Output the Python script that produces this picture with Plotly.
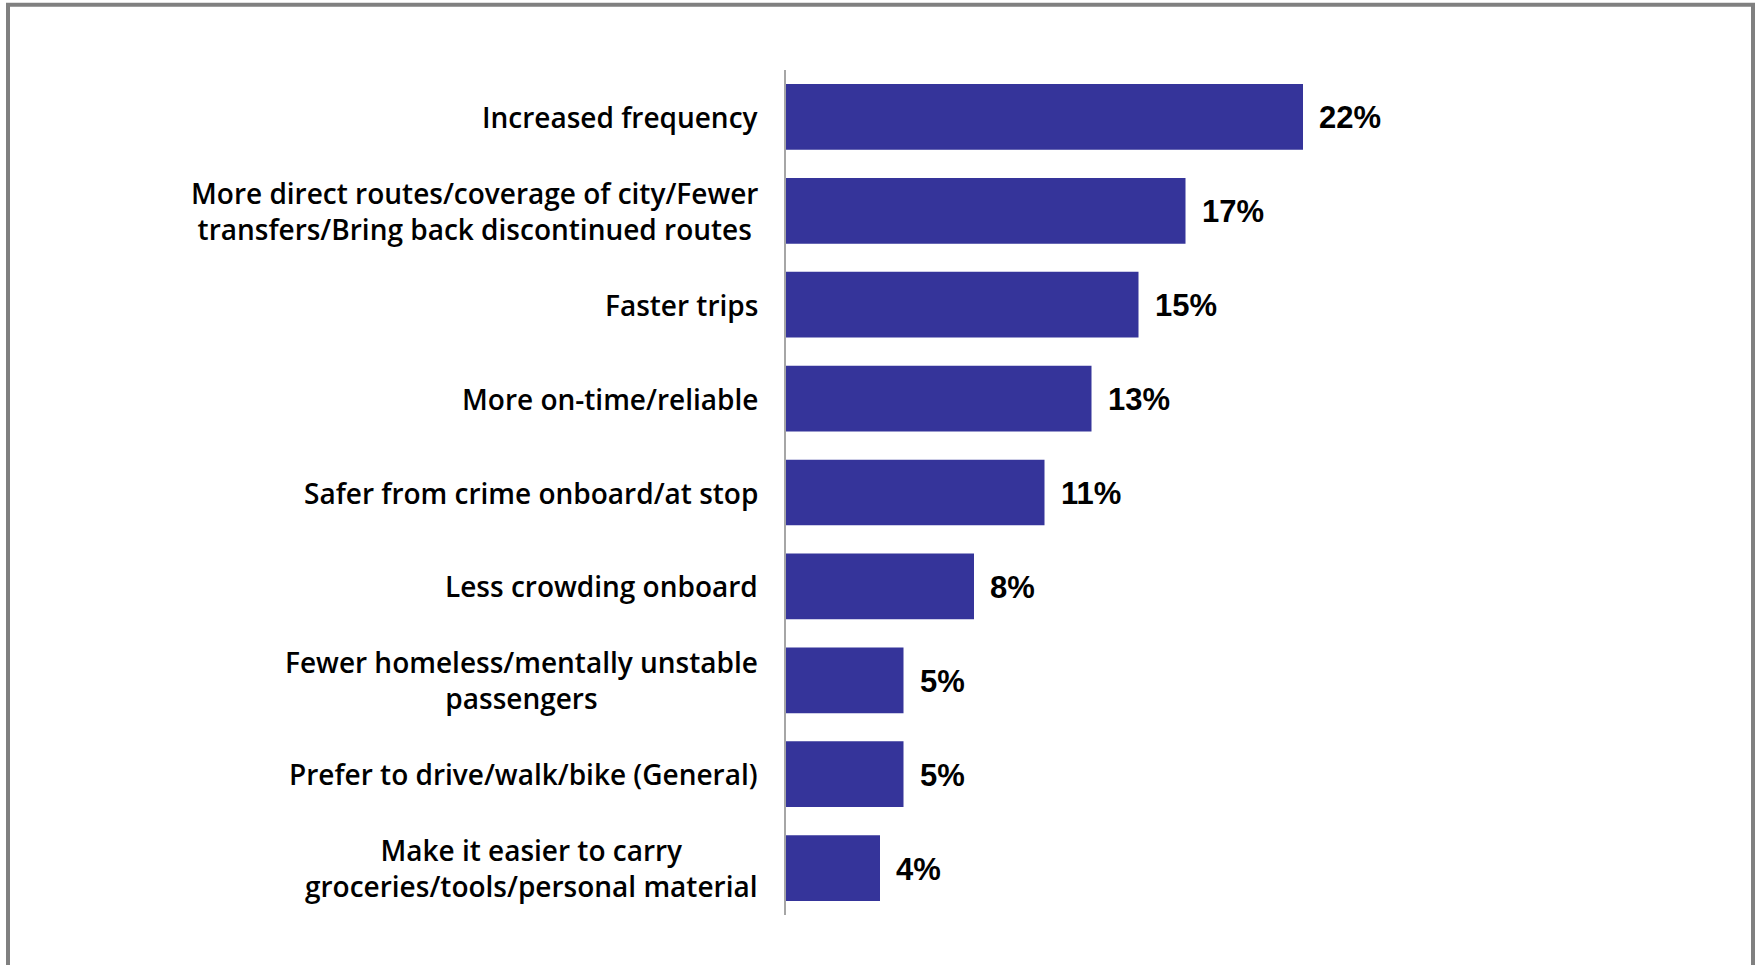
import plotly.graph_objects as go

# Reasons that would make riders use transit more (share of responses)
categories = [
    "Increased frequency",
    "More direct routes/coverage of city/Fewer<br>transfers/Bring back discontinued routes",
    "Faster trips",
    "More on-time/reliable",
    "Safer from crime onboard/at stop",
    "Less crowding onboard",
    "Fewer homeless/mentally unstable<br>passengers",
    "Prefer to drive/walk/bike (General)",
    "Make it easier to carry<br>groceries/tools/personal material",
]
values = [22, 17, 15, 13, 11, 8, 5, 5, 4]

BAR_COLOR = "#35349A"
W, H = 1758, 965
M_L, M_R, M_T, M_B = 786, 208, 70, 50
plot_w = W - M_L - M_R
plot_h = H - M_T - M_B
x_max = plot_w / 23.5

positions = list(range(len(categories)))

fig = go.Figure(
    go.Bar(
        x=values,
        y=positions,
        orientation="h",
        marker=dict(color=BAR_COLOR, line=dict(width=0)),
        hoverinfo="skip",
    )
)

annotations = []
label_font = dict(family="Open Sans", size=28, color="#000000", weight=600)
for pos, cat in zip(positions, categories):
    annotations.append(dict(
        x=0, xref="paper", y=pos, yref="y",
        text=cat, showarrow=False, align="center",
        xanchor="right", yanchor="middle", xshift=-26,
        font=label_font,
    ))

# value labels just past the end of each bar
for pos, v in zip(positions, values):
    annotations.append(dict(
        x=v, xref="x", y=pos, yref="y",
        text=f"{v}%", showarrow=False,
        xanchor="left", yanchor="middle", xshift=14, yshift=-1,
        font=dict(family="Liberation Sans", size=31, color="#000000", weight="bold"),
    ))

# grey frame around the chart
def px_to_paper_x(px):
    return (px - M_L) / plot_w

def px_to_paper_y(py):
    return 1 - (py - M_T) / plot_h

fig.add_shape(
    type="rect", xref="paper", yref="paper",
    x0=px_to_paper_x(8), x1=px_to_paper_x(1753),
    y0=px_to_paper_y(1000), y1=px_to_paper_y(4.8),
    line=dict(color="#808080", width=4), fillcolor="rgba(0,0,0,0)",
    layer="below",
)

fig.update_layout(
    width=W, height=H,
    margin=dict(l=M_L, r=M_R, t=M_T, b=M_B, pad=0),
    paper_bgcolor="white", plot_bgcolor="white",
    bargap=0.3,
    showlegend=False,
    annotations=annotations,
    xaxis=dict(range=[0, x_max], visible=False, fixedrange=True),
    yaxis=dict(
        range=[len(categories) - 0.5, -0.5],
        showticklabels=False, showgrid=False, zeroline=False, ticks="",
        showline=True, linecolor="#A6A6A6", linewidth=2,
        fixedrange=True,
    ),
)

fig.write_html("out.html", config={"displayModeBar": False})
